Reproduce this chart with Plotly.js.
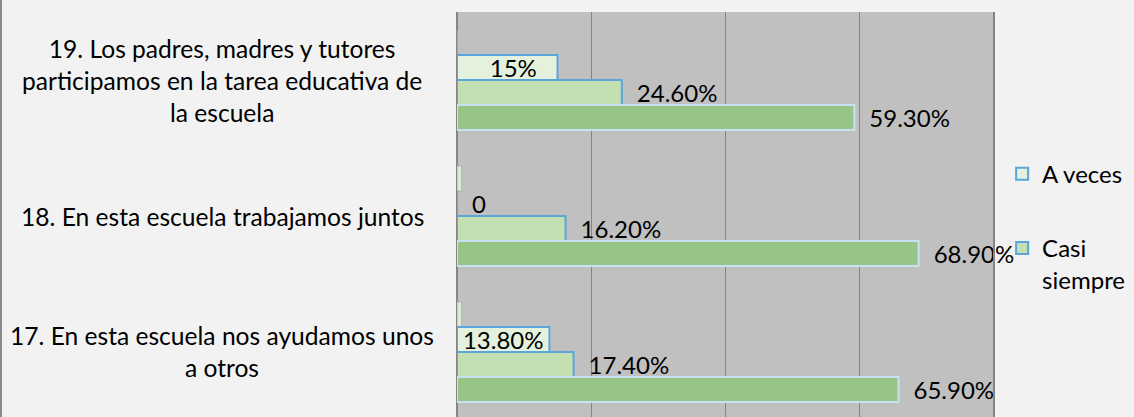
<!DOCTYPE html>
<html>
<head>
<meta charset="utf-8">
<script src="https://cdn.plot.ly/plotly-3.0.1.min.js"></script>
<style>
  html, body { margin: 0; padding: 0; background: #f2f2f2; }
  #wrap { position: relative; width: 1134px; height: 417px; }
  #chart { width: 1134px; height: 417px; }
  #edge { position: absolute; left: 0; top: 0; width: 2px; height: 417px; background: #8c8c8c; }
</style>
</head>
<body>
<div id="wrap"><div id="chart"></div><div id="edge"></div></div>
<script>
// Categories (bottom to top as drawn)
const categories = [
  '17. En esta escuela nos ayudamos unos<br>a otros',
  '18. En esta escuela trabajamos juntos',
  '19. Los padres, madres y tutores<br>participamos en la tarea educativa de<br>la escuela'
];
// Series values (fractions)
const nunca       = [0.007, 0.007, 0];
const aVeces      = [0.138, 0, 0.15];
const casiSiempre = [0.174, 0.162, 0.246];
const siempre     = [0.659, 0.689, 0.593];
// Data labels as shown
const aVecesLabels  = ['13.80%', '0', '15%'];
const casiLabels    = ['17.40%', '16.20%', '24.60%'];
const siempreLabels = ['65.90%', '68.90%', '59.30%'];
// Axis ticks
const xTicks = [0, 0.2, 0.4, 0.6, 0.8];

const FONT = 'Lato, "Open Sans", sans-serif';
const FS = 24;
const FS_CAT = 24.6;
const BW = 0.184;

const traces = [
  {
    type: 'bar', orientation: 'h', name: 'Nunca', y: categories, x: nunca,
    width: BW, offset: BW, showlegend: false, hoverinfo: 'skip',
    marker: { color: '#dcebd2', line: { color: '#a9b7a2', width: 1 } }
  },
  {
    type: 'bar', orientation: 'h', name: 'A veces', y: categories, x: aVeces,
    width: BW, offset: 0, legendgroup: 'a',
    text: aVecesLabels, textposition: ['inside', 'outside', 'inside'],
    texttemplate: ['%{text}', '\u2002%{text}', '\u2002%{text}'],
    insidetextanchor: 'middle', constraintext: 'none', cliponaxis: false,
    insidetextfont: { family: FONT, size: FS, color: '#000' },
    outsidetextfont: { family: FONT, size: FS, color: '#000' },
    marker: { color: '#e4f1dc', line: { color: '#5aa5db', width: 2 } }
  },
  {
    type: 'bar', orientation: 'h', name: 'Casi<br>siempre', y: categories, x: casiSiempre,
    width: BW, offset: -BW, legendgroup: 'b',
    text: casiLabels, textposition: 'outside', texttemplate: '\u2002%{text}',
    constraintext: 'none', cliponaxis: false,
    outsidetextfont: { family: FONT, size: FS, color: '#000' },
    marker: { color: '#c4dfb2', line: { color: '#5aa5db', width: 2 } }
  },
  {
    type: 'bar', orientation: 'h', name: 'Siempre', y: categories, x: siempre,
    width: BW, offset: -2 * BW, showlegend: false,
    text: siempreLabels, textposition: 'outside', texttemplate: '\u2002%{text}',
    constraintext: 'none', cliponaxis: false,
    outsidetextfont: { family: FONT, size: FS, color: '#000' },
    marker: { color: '#97c587', line: { color: '#c8e0ef', width: 2 } }
  }
];

const annotations = categories.map(c => ({
  xref: 'paper', yref: 'y', x: -0.438, y: c, xanchor: 'center', yanchor: 'middle',
  text: c, showarrow: false, align: 'center',
  font: { family: FONT, size: FS_CAT, color: '#000' }
}));

const layout = {
  width: 1134, height: 417,
  margin: { l: 457, r: 141, t: 12, b: 0, pad: 0 },
  paper_bgcolor: '#f2f2f2',
  plot_bgcolor: '#c0c0c0',
  barmode: 'overlay',
  showlegend: true,
  font: { family: FONT, size: FS, color: '#000' },
  xaxis: {
    range: [0, 0.8], tickvals: xTicks, showticklabels: false,
    showgrid: true, gridcolor: '#858585', gridwidth: 1,
    zeroline: true, zerolinecolor: '#858585', zerolinewidth: 1.5,
    showline: false, fixedrange: true
  },
  yaxis: {
    type: 'category', range: [-0.478, 2.5], showticklabels: false, side: 'right',
    showgrid: false, zeroline: false, showline: true, linecolor: '#858585', linewidth: 1.5,
    fixedrange: true
  },
  legend: {
    x: 1.017, xanchor: 'left', y: 0.655, yanchor: 'top',
    bgcolor: 'rgba(0,0,0,0)', traceorder: 'grouped', tracegroupgap: 40,
    valign: 'top', font: { family: FONT, size: FS, color: '#000' }
  },
  annotations: annotations
};

Plotly.newPlot('chart', traces, layout, { displayModeBar: false, staticPlot: true });
</script>
</body>
</html>
